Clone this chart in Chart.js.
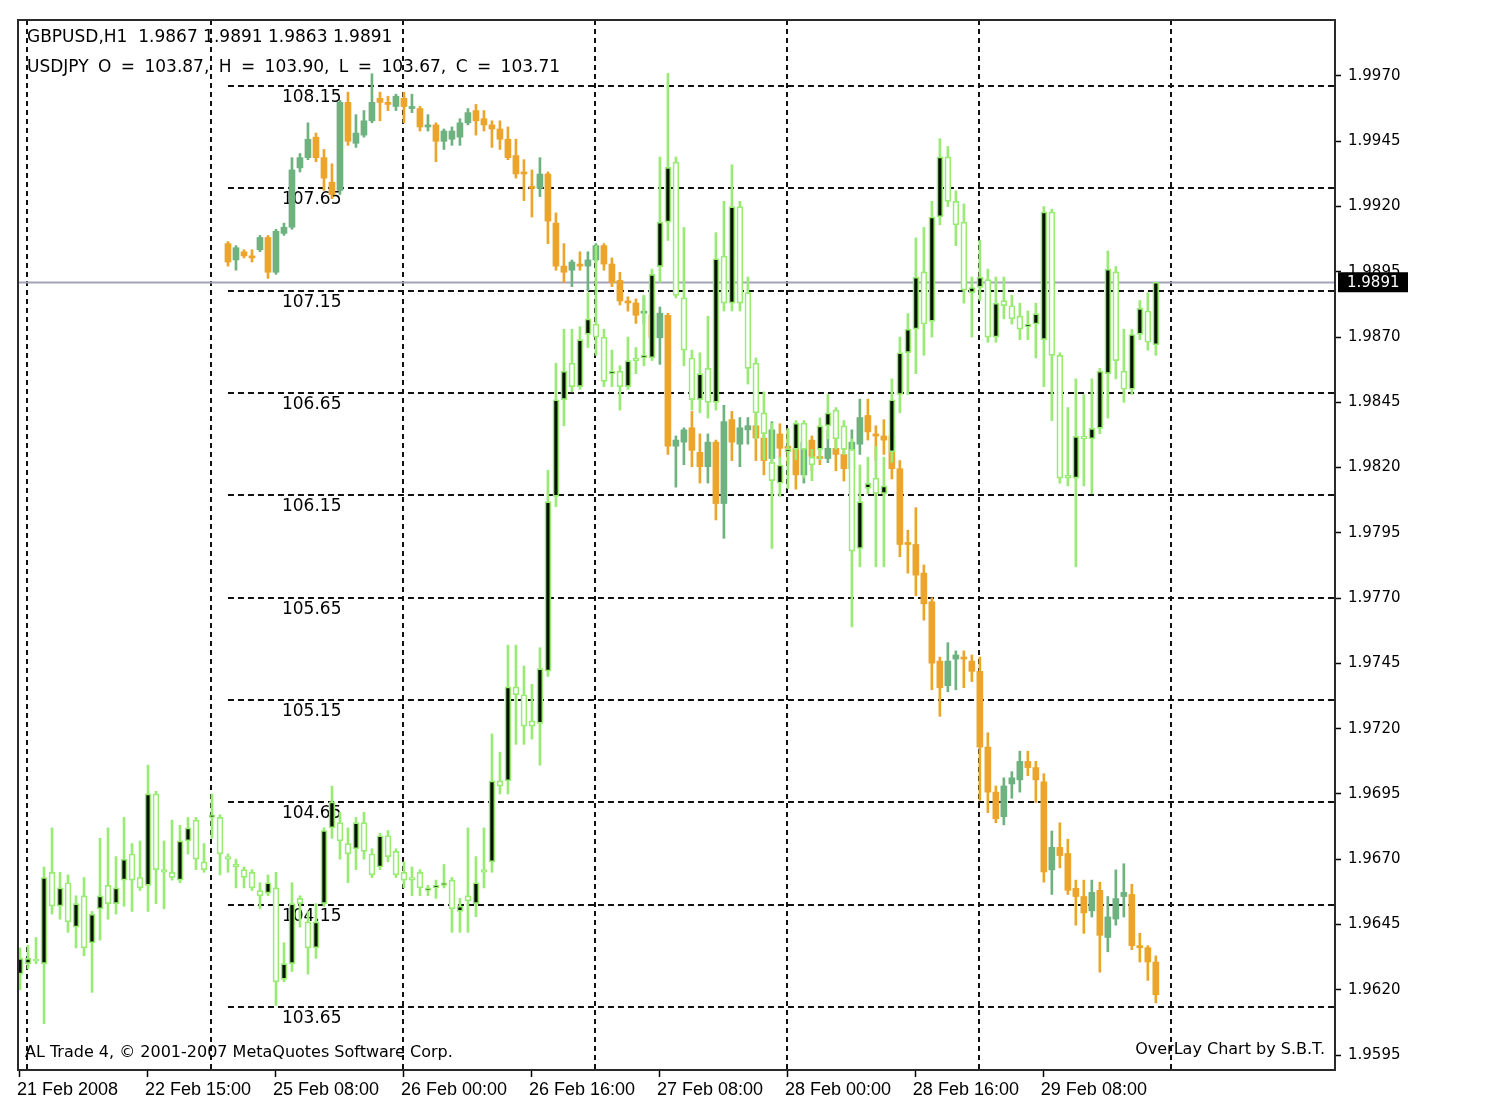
<!DOCTYPE html>
<html>
<head>
<meta charset="utf-8">
<title>GBPUSD H1 with USDJPY overlay</title>
<script src="https://cdn.jsdelivr.net/npm/chart.js@4.4.1/dist/chart.umd.min.js"></script>
<style>
  html, body { margin: 0; padding: 0; background: #fff; }
  #wrap { width: 1497px; height: 1112px; }
</style>
</head>
<body>
<div id="wrap"><canvas id="overlayChart"></canvas></div>
<script>
// bar index 0 = 21 Feb 23:00, one bar per hour (weekend skipped)
const xTickIdx = [0, 16, 32, 48, 64, 80, 96, 112, 128];
const xTickLabels = ['21 Feb 2008', '22 Feb 15:00', '25 Feb 08:00', '26 Feb 00:00', '26 Feb 16:00',
                     '27 Feb 08:00', '28 Feb 00:00', '28 Feb 16:00', '29 Feb 08:00'];
const dayStartIdx = [1, 24, 48, 72, 96, 120, 144];

const gbpTicks = [1.9595, 1.9620, 1.9645, 1.9670, 1.9695, 1.9720, 1.9745, 1.9770,
                  1.9795, 1.9820, 1.9845, 1.9870, 1.9895, 1.9920, 1.9945, 1.9970];
const jpyTicks = [103.65, 104.15, 104.65, 105.15, 105.65, 106.15, 106.65, 107.15, 107.65, 108.15];

// GBPUSD H1
const gbpOpen = [
  1.9626,1.9630,1.9631,1.9630,1.9665,1.9652,1.9661,1.9644,1.9656,1.9638,
  1.9651,1.9660,1.9653,1.9662,1.9672,1.9663,1.9660,1.9695,1.9666,1.9665,
  1.9662,1.9677,1.9685,1.9669,1.9686,1.9686,1.9671,1.9668,1.9666,1.9665,
  1.9658,1.9657,1.9659,1.9624,1.9630,1.9655,1.9646,1.9636,1.9653,1.9682,
  1.9684,1.9676,1.9674,1.9684,1.9672,1.9667,1.9679,1.9673,1.9665,1.9663,
  1.9665,1.9658,1.9659,1.9660,1.9662,1.9650,1.9656,1.9653,1.9666,1.9669,
  1.9700,1.9700,1.9736,1.9733,1.9723,1.9722,1.9742,1.9809,1.9846,1.9860,
  1.9851,1.9871,1.9875,1.9870,1.9856,1.9857,1.9851,1.9862,1.9862,1.9862,
  1.9897,1.9914,1.9937,1.9885,1.9862,1.9846,1.9858,1.9845,1.9901,1.9883,
  1.9920,1.9887,1.9860,1.9841,1.9822,1.9814,1.9826,1.9827,1.9837,1.9824,
  1.9827,1.9836,1.9842,1.9836,1.9827,1.9789,1.9812,1.9816,1.9810,1.9826,
  1.9848,1.9864,1.9873,1.9895,1.9876,1.9916,1.9939,1.9922,1.9914,1.9887,
  1.9889,1.9892,1.9870,1.9884,1.9882,1.9878,1.9874,1.9875,1.9869,1.9918,
  1.9863,1.9817,1.9816,1.9832,1.9831,1.9835,1.9856,1.9895,1.9857,1.9850,
  1.9871,1.9880,1.9867];
const gbpHigh = [
  1.9636,1.9637,1.9640,1.9667,1.9682,1.9665,1.9664,1.9656,1.9663,1.9650,
  1.9678,1.9682,1.9671,1.9686,1.9676,1.9677,1.9706,1.9696,1.9677,1.9685,
  1.9683,1.9686,1.9686,1.9676,1.9695,1.9687,1.9672,1.9670,1.9667,1.9666,
  1.9661,1.9664,1.9665,1.9638,1.9661,1.9656,1.9650,1.9653,1.9682,1.9698,
  1.9688,1.9682,1.9686,1.9688,1.9674,1.9680,1.9681,1.9674,1.9669,1.9667,
  1.9666,1.9660,1.9662,1.9668,1.9663,1.9655,1.9682,1.9671,1.9682,1.9718,
  1.9711,1.9752,1.9752,1.9744,1.9737,1.9751,1.9819,1.9860,1.9873,1.9873,
  1.9874,1.9887,1.9905,1.9873,1.9865,1.9859,1.9870,1.9866,1.9886,1.9896,
  1.9939,1.9971,1.9939,1.9912,1.9865,1.9864,1.9878,1.9910,1.9922,1.9936,
  1.9922,1.9893,1.9862,1.9849,1.9837,1.9824,1.9835,1.9838,1.9838,1.9827,
  1.9839,1.9848,1.9843,1.9838,1.9831,1.9821,1.9824,1.9828,1.9824,1.9854,
  1.9870,1.9879,1.9908,1.9912,1.9922,1.9946,1.9943,1.9926,1.9921,1.9893,
  1.9907,1.9896,1.9893,1.9893,1.9886,1.9883,1.9880,1.9883,1.9920,1.9919,
  1.9864,1.9843,1.9854,1.9848,1.9854,1.9858,1.9903,1.9897,1.9873,1.9873,
  1.9884,1.9887,1.9891];
const gbpLow = [
  1.9620,1.9628,1.9630,1.9607,1.9649,1.9647,1.9642,1.9636,1.9633,1.9619,
  1.9639,1.9647,1.9649,1.9652,1.9650,1.9658,1.9650,1.9653,1.9651,1.9662,
  1.9661,1.9672,1.9666,1.9665,1.9678,1.9664,1.9665,1.9659,1.9659,1.9658,
  1.9651,1.9656,1.9614,1.9623,1.9627,1.9644,1.9626,1.9632,1.9652,1.9678,
  1.9670,1.9661,1.9666,1.9670,1.9663,1.9666,1.9669,1.9663,1.9659,1.9656,
  1.9656,1.9656,1.9655,1.9659,1.9642,1.9642,1.9642,1.9648,1.9659,1.9665,
  1.9695,1.9695,1.9714,1.9714,1.9716,1.9706,1.9740,1.9805,1.9836,1.9849,
  1.9850,1.9866,1.9863,1.9851,1.9851,1.9842,1.9850,1.9856,1.9859,1.9861,
  1.9891,1.9907,1.9885,1.9859,1.9842,1.9841,1.9839,1.9842,1.9880,1.9880,
  1.9880,1.9852,1.9831,1.9823,1.9789,1.9809,1.9812,1.9823,1.9816,1.9815,
  1.9823,1.9831,1.9827,1.9825,1.9759,1.9782,1.9810,1.9782,1.9782,1.9822,
  1.9841,1.9848,1.9856,1.9863,1.9870,1.9913,1.9920,1.9905,1.9883,1.9870,
  1.9884,1.9868,1.9868,1.9877,1.9875,1.9869,1.9869,1.9862,1.9851,1.9838,
  1.9814,1.9813,1.9782,1.9813,1.9810,1.9833,1.9839,1.9854,1.9845,1.9848,
  1.9869,1.9865,1.9863];
const gbpClose = [
  1.9632,1.9632,1.9631,1.9663,1.9652,1.9659,1.9646,1.9653,1.9636,1.9649,
  1.9656,1.9653,1.9659,1.9670,1.9662,1.9659,1.9695,1.9666,1.9665,1.9663,
  1.9677,1.9682,1.9670,1.9666,1.9687,1.9672,1.9670,1.9667,1.9663,1.9659,
  1.9656,1.9661,1.9623,1.9630,1.9653,1.9653,1.9636,1.9646,1.9681,1.9692,
  1.9677,1.9672,1.9684,1.9673,1.9664,1.9679,1.9671,1.9664,1.9662,1.9662,
  1.9659,1.9659,1.9660,1.9661,1.9651,1.9652,1.9654,1.9661,1.9665,1.9700,
  1.9698,1.9736,1.9733,1.9721,1.9721,1.9743,1.9807,1.9846,1.9857,1.9851,
  1.9869,1.9877,1.9870,1.9853,1.9857,1.9851,1.9861,1.9861,1.9863,1.9894,
  1.9914,1.9935,1.9886,1.9865,1.9846,1.9856,1.9845,1.9900,1.9883,1.9920,
  1.9883,1.9858,1.9841,1.9833,1.9815,1.9821,1.9827,1.9837,1.9827,1.9821,
  1.9836,1.9841,1.9831,1.9827,1.9788,1.9807,1.9814,1.9810,1.9813,1.9846,
  1.9864,1.9873,1.9893,1.9875,1.9916,1.9939,1.9922,1.9913,1.9888,1.9889,
  1.9893,1.9870,1.9883,1.9882,1.9877,1.9873,1.9875,1.9879,1.9918,1.9863,
  1.9816,1.9816,1.9832,1.9831,1.9835,1.9857,1.9896,1.9861,1.9850,1.9871,
  1.9881,1.9868,1.9891];

// USDJPY overlay, starts at bar 26
const jpyStart = 26;
const jpyOpen = [
  107.38,107.30,107.34,107.32,107.35,107.41,107.24,107.43,107.46,107.75,
  107.80,107.90,107.80,107.68,107.64,108.07,107.87,107.91,107.98,108.09,
  108.07,108.05,108.09,108.04,108.04,107.95,107.96,107.88,107.89,107.90,
  107.97,108.03,107.99,107.96,107.94,107.89,107.81,107.73,107.66,107.65,
  107.72,107.48,107.27,107.25,107.28,107.27,107.30,107.37,107.28,107.20,
  107.10,107.09,107.04,107.03,106.92,107.03,106.39,106.41,106.48,106.36,
  106.29,106.41,106.11,106.52,106.40,106.47,106.49,106.43,106.33,106.45,
  106.39,106.38,106.25,106.42,106.34,106.33,106.38,106.35,106.28,106.40,
  106.54,106.45,106.44,106.44,106.28,105.92,105.91,105.77,105.63,105.34,
  105.22,105.35,105.36,105.34,105.29,104.92,104.70,104.58,104.74,104.76,
  104.85,104.82,104.75,104.32,104.43,104.40,104.23,104.19,104.12,104.22,
  103.99,104.08,104.19,104.20,103.95,103.94,103.87];
const jpyHigh = [
  107.39,107.37,107.35,107.35,107.42,107.42,107.45,107.48,107.80,107.82,
  107.97,107.92,107.84,107.77,108.08,108.12,108.01,108.03,108.21,108.12,
  108.10,108.11,108.12,108.11,108.05,108.01,107.97,107.94,107.95,107.99,
  108.04,108.06,108.03,107.98,107.98,107.95,107.89,107.79,107.74,107.80,
  107.73,107.53,107.38,107.30,107.34,107.34,107.38,107.38,107.31,107.24,
  107.12,107.11,107.12,107.08,107.07,107.04,106.44,106.48,106.56,106.45,
  106.45,106.42,106.59,106.56,106.53,106.53,106.55,106.48,106.51,106.50,
  106.47,106.42,106.43,106.44,106.42,106.47,106.44,106.40,106.47,106.62,
  106.62,106.49,106.52,106.52,106.32,105.98,106.09,105.81,105.65,105.36,
  105.43,105.39,105.39,105.37,105.36,104.99,104.73,104.77,104.80,104.90,
  104.90,104.85,104.79,104.51,104.55,104.47,104.27,104.27,104.27,104.26,
  104.19,104.32,104.35,104.25,104.01,103.95,103.90];
const jpyLow = [
  107.27,107.25,107.31,107.29,107.34,107.21,107.23,107.42,107.45,107.73,
  107.79,107.78,107.64,107.60,107.62,107.86,107.85,107.90,107.97,107.98,
  108.03,108.03,107.97,108.02,107.93,107.93,107.78,107.84,107.86,107.86,
  107.96,107.91,107.93,107.85,107.84,107.79,107.70,107.59,107.51,107.61,
  107.38,107.25,107.19,107.17,107.25,107.15,107.29,107.25,107.17,107.08,
  107.05,106.99,106.99,106.88,106.79,106.35,106.19,106.30,106.29,106.21,
  106.21,106.03,105.94,106.32,106.29,106.40,106.32,106.25,106.27,106.33,
  106.30,106.18,106.21,106.27,106.30,106.31,106.27,106.22,106.13,106.35,
  106.42,106.32,106.35,106.23,105.85,105.77,105.66,105.54,105.20,105.07,
  105.19,105.20,105.21,105.24,104.66,104.60,104.55,104.54,104.67,104.70,
  104.78,104.65,104.26,104.20,104.33,104.20,104.05,104.01,104.09,103.82,
  103.92,104.05,104.09,103.93,103.87,103.78,103.67];
const jpyClose = [
  107.29,107.36,107.32,107.31,107.41,107.24,107.44,107.46,107.74,107.80,
  107.89,107.80,107.70,107.62,108.07,107.88,107.92,107.98,108.07,108.07,
  108.06,108.10,108.05,108.05,107.95,107.96,107.88,107.93,107.93,107.97,
  108.02,107.98,107.96,107.94,107.89,107.80,107.72,107.72,107.65,107.72,
  107.49,107.27,107.24,107.29,107.27,107.30,107.37,107.28,107.19,107.10,
  107.09,107.03,107.05,106.92,107.04,106.39,106.42,106.47,106.37,106.29,
  106.41,106.11,106.51,106.41,106.48,106.49,106.43,106.32,106.47,106.38,
  106.38,106.25,106.41,106.34,106.33,106.38,106.35,106.28,106.41,106.53,
  106.46,106.44,106.42,106.28,105.91,105.91,105.76,105.62,105.33,105.21,
  105.34,105.37,105.35,105.29,104.92,104.70,104.57,104.73,104.77,104.85,
  104.82,104.76,104.31,104.43,104.39,104.22,104.19,104.11,104.21,104.00,
  104.09,104.18,104.21,103.95,103.94,103.87,103.71];

const lastGbp = gbpClose[gbpClose.length - 1];

const GBP_LINE = '#98ec73';
const GBP_BULL = '#050f02';
const GBP_BEAR = '#ffffff';
const JPY_UP = '#6db27f';
const JPY_DOWN = '#eca42b';

Chart.defaults.font.family = 'DejaVu Sans';

const gbpWicks = gbpOpen.map((o, i) => ({ x: i, y: [gbpLow[i], gbpHigh[i]] }));
const gbpBodies = gbpOpen.map((o, i) => ({ x: i, y: [o, gbpClose[i]] }));
const jpyWicks = jpyOpen.map((o, i) => ({ x: i + jpyStart, y: [jpyLow[i], jpyHigh[i]] }));
const jpyBodies = jpyOpen.map((o, i) => ({ x: i + jpyStart, y: [o, jpyClose[i]] }));
const jpyColors = jpyOpen.map((o, i) => jpyClose[i] >= o ? JPY_UP : JPY_DOWN);

const mtOverlay = {
  id: 'mtOverlay',
  beforeDatasetsDraw(chart) {
    const { ctx, chartArea: a, scales: { x, yG, yJ } } = chart;
    ctx.save();
    ctx.beginPath();
    ctx.rect(a.left, a.top, a.right - a.left, a.bottom - a.top);
    ctx.clip();

    ctx.strokeStyle = '#111';
    ctx.lineWidth = 2;
    ctx.setLineDash([5, 4]);
    dayStartIdx.forEach(i => {
      const px = Math.round(x.getPixelForValue(i)) - 1;
      ctx.beginPath();
      ctx.moveTo(px, a.top);
      ctx.lineTo(px, a.bottom);
      ctx.stroke();
    });

    // usdjpy levels start where the overlay starts
    const x0 = x.getPixelForValue(jpyStart);
    ctx.setLineDash([6, 4]);
    jpyTicks.forEach(v => {
      const py = Math.round(yJ.getPixelForValue(v));
      ctx.beginPath();
      ctx.moveTo(x0, py);
      ctx.lineTo(a.right, py);
      ctx.stroke();
    });
    ctx.setLineDash([]);
    ctx.fillStyle = '#000';
    ctx.font = '17px "DejaVu Sans"';
    ctx.textBaseline = 'top';
    ctx.textAlign = 'left';
    jpyTicks.forEach(v => {
      ctx.fillText(v.toFixed(2), x0 + 54, yJ.getPixelForValue(v) + 3);
    });

    // last price line
    const pl = Math.round(yG.getPixelForValue(lastGbp)) + 0.5;
    ctx.strokeStyle = '#a3a3b8';
    ctx.lineWidth = 2;
    ctx.beginPath();
    ctx.moveTo(a.left, pl);
    ctx.lineTo(a.right, pl);
    ctx.stroke();
    ctx.restore();
  },
  afterDraw(chart) {
    const { ctx, chartArea: a, scales: { yG } } = chart;
    ctx.save();
    ctx.strokeStyle = '#2a2a2a';
    ctx.lineWidth = 2;
    ctx.strokeRect(a.left, a.top, a.right - a.left, a.bottom - a.top);

    // price tag on the right scale
    const py = yG.getPixelForValue(lastGbp);
    ctx.fillStyle = '#000';
    ctx.fillRect(a.right + 3, py - 10, 70, 20);
    ctx.fillStyle = '#fff';
    ctx.font = '15px "DejaVu Sans"';
    ctx.textBaseline = 'middle';
    ctx.fillText(lastGbp.toFixed(4), a.right + 12, py + 1);

    ctx.fillStyle = '#000';
    ctx.font = '17px "DejaVu Sans"';
    ctx.fillText('GBPUSD,H1  ' + [gbpOpen, gbpHigh, gbpLow, gbpClose].map(s => s[s.length - 1].toFixed(4)).join(' '), 27, 38);
    const n = jpyOpen.length - 1;
    ctx.wordSpacing = '4px';
    ctx.fillText('USDJPY O = ' + jpyOpen[n].toFixed(2) + ', H = ' + jpyHigh[n].toFixed(2) +
                 ', L = ' + jpyLow[n].toFixed(2) + ', C = ' + jpyClose[n].toFixed(2), 27, 68);
    ctx.wordSpacing = '0px';
    ctx.font = '16px "DejaVu Sans"';
    ctx.fillText('AL Trade 4, \u00a9 2001-2007 MetaQuotes Software Corp.', 25, 1053);
    ctx.textAlign = 'right';
    ctx.fillText('OverLay Chart by S.B.T.', 1325, 1050);
    ctx.restore();
  }
};

new Chart(document.getElementById('overlayChart'), {
  type: 'bar',
  data: {
    datasets: [
      { label: 'GBPUSD body', data: gbpBodies, yAxisID: 'yG',
        backgroundColor: gbpOpen.map((o, i) => gbpClose[i] > o ? GBP_BULL : GBP_BEAR),
        borderColor: GBP_LINE, borderWidth: 1.7, borderSkipped: false, barThickness: 6, minBarLength: 2 },
      { label: 'GBPUSD wick', data: gbpWicks, yAxisID: 'yG',
        backgroundColor: GBP_LINE, barThickness: 2, minBarLength: 1 },
      { label: 'USDJPY body', data: jpyBodies, yAxisID: 'yJ',
        backgroundColor: jpyColors, borderWidth: 0, barThickness: 6, minBarLength: 2 },
      { label: 'USDJPY wick', data: jpyWicks, yAxisID: 'yJ',
        backgroundColor: jpyColors, barThickness: 2, minBarLength: 1 }
    ]
  },
  options: {
    responsive: true,
    maintainAspectRatio: false,
    animation: false,
    layout: { padding: { left: 18, top: 20, right: 0, bottom: 0 } },
    datasets: { bar: { grouped: false } },
    plugins: { legend: { display: false }, tooltip: { enabled: false } },
    scales: {
      x: {
        type: 'linear', min: -0.25, max: 164.4, offset: false,
        grid: { drawOnChartArea: false, offset: false, tickLength: 7, tickColor: '#000', tickWidth: 1.5 },
        border: { display: false },
        afterBuildTicks: s => { s.ticks = xTickIdx.map(v => ({ value: v })); },
        afterFit: s => { s.height = 42; },
        ticks: {
          autoSkip: false, maxRotation: 0, align: 'start', labelOffset: -3, padding: 2,
          color: '#000', font: { family: 'Liberation Sans', size: 18 },
          callback: v => xTickLabels[xTickIdx.indexOf(v)]
        }
      },
      yG: {
        type: 'linear', position: 'right', min: 1.958926, max: 1.999145,
        grid: { drawOnChartArea: false, tickLength: 6, tickColor: '#000', tickWidth: 1.5 },
        border: { display: false },
        afterBuildTicks: s => { s.ticks = gbpTicks.map(v => ({ value: v })); },
        afterFit: s => { s.width = 162; },
        ticks: { padding: 7, color: '#000', font: { size: 15 }, callback: v => v.toFixed(4) }
      },
      yJ: { type: 'linear', display: false, min: 103.3423, max: 108.4725 }
    }
  },
  plugins: [mtOverlay]
});
</script>
</body>
</html>
